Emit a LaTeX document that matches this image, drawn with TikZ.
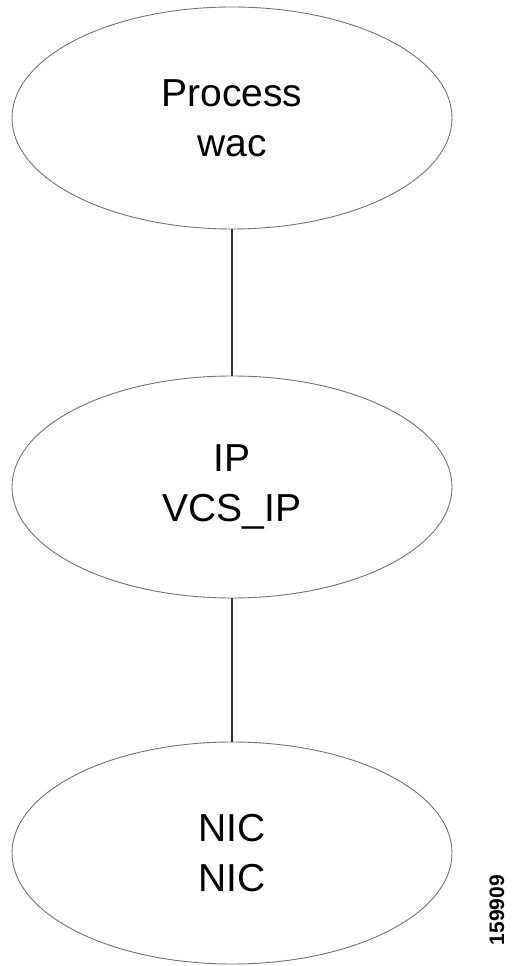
\documentclass[tikz,border=0pt]{standalone}
\usepackage{fontspec}
\setmainfont{Liberation Sans}
\usetikzlibrary{shapes.geometric}

\begin{document}
\begin{tikzpicture}[x=1pt,y=1pt]
\tikzstyle{res}=[draw=black!55,line width=0.9pt,ellipse,minimum width=440pt,minimum height=222pt,inner sep=0pt,align=center,font=\fontsize{39}{50}\selectfont]
\tikzstyle{link}=[draw=black!80,line width=1.3pt]
\useasboundingbox (0,0) rectangle (526,966);
\node [res] (proc) at (232,848) {Process\\wac};
\node [res] (ip) at (232,479) {IP\\VCS\_IP};
\node [res] (nic) at (232,113) {NIC\\NIC};
\draw [link] (proc.south) -- (ip.north);
\draw [link] (ip.south) -- (nic.north);
\node [rotate=90,font=\fontsize{21}{24}\selectfont\bfseries] (fig) at (497,56) {159909};
\end{tikzpicture}
\end{document}
